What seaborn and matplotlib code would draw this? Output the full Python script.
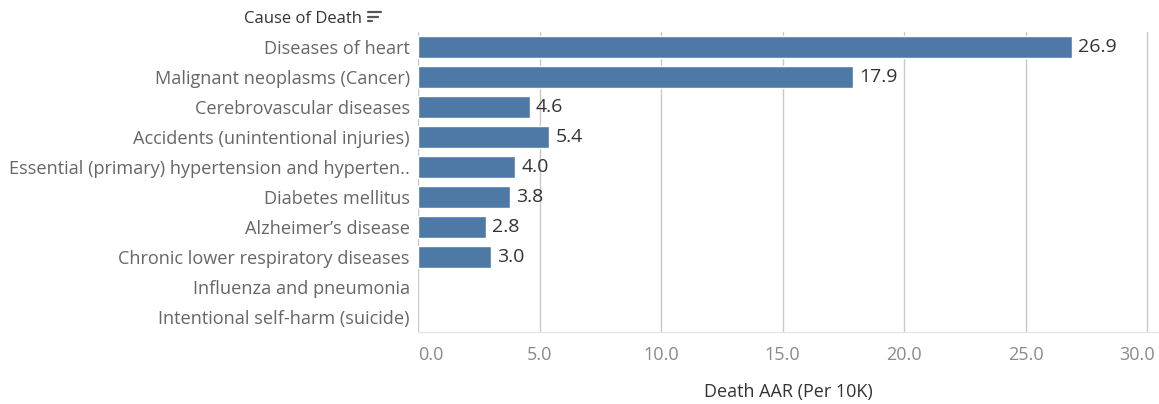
import pandas as pd
import matplotlib.pyplot as plt
import matplotlib.transforms as mtransforms
import seaborn as sns
from matplotlib.lines import Line2D

# 数据
causes = [
    "Diseases of heart",
    "Malignant neoplasms (Cancer)",
    "Cerebrovascular diseases",
    "Accidents (unintentional injuries)",
    "Essential (primary) hypertension and hyperten..",
    "Diabetes mellitus",
    "Alzheimer\u2019s disease",
    "Chronic lower respiratory diseases",
    "Influenza and pneumonia",
    "Intentional self-harm (suicide)",
]
rates = [26.9, 17.9, 4.6, 5.4, 4.0, 3.8, 2.8, 3.0, None, None]
x_ticks = [0, 5, 10, 15, 20, 25, 30]

df = pd.DataFrame({"cause": causes, "rate": rates})

sns.set_theme(style="white")
plt.rcParams['font.family'] = ['Open Sans', 'DejaVu Sans']

W, H = 1159, 404
px_per_unit = 24.3
fig = plt.figure(figsize=(W / 100, H / 100), dpi=100)
ax = fig.add_axes([418 / W, 1 - 332 / H, (W - 418) / W, 300 / H])

sns.barplot(data=df, y="cause", x="rate", orient="h", color="#4e79a7",
            saturation=1, width=0.74, ax=ax, zorder=3)

ax.set_xlim(0, (W - 418) / px_per_unit)
ax.set_ylim(9.5, -0.5)

for i, v in enumerate(rates):
    if v is not None:
        ax.text(v + 0.25, i, f"{v:.1f}", va="center", ha="left",
                fontsize=14, color="#333333", zorder=4)

ax.set_xticks(x_ticks)
ax.set_xticklabels([f"{t:.1f}" for t in x_ticks], fontsize=13, color="#8a8a8a")
ax.tick_params(axis="x", length=0, pad=10)
ax.tick_params(axis="y", length=0, pad=6, labelsize=13.1, labelcolor="#666666")

# 首尾刻度标签留在图内
labels = ax.get_xticklabels()
labels[0].set_horizontalalignment("left")
labels[-1].set_transform(labels[-1].get_transform() +
                         mtransforms.ScaledTranslation(-10 / 100, 0, fig.dpi_scale_trans))

ax.grid(axis="x", color="#c8c8c8", linewidth=1, zorder=0)
ax.grid(axis="y", visible=False)

for s in ["top", "right", "left"]:
    ax.spines[s].set_visible(False)
ax.spines["bottom"].set_color("#e6e6e6")
ax.spines["bottom"].set_linewidth(1)

ax.set_ylabel("")
ax.set_xlabel("Death AAR (Per 10K)", fontsize=13, color="#333333", labelpad=14)

# 表头
fig.text(362 / W, 1 - 19 / H, "Cause of Death", ha="right", va="center",
         fontsize=12, color="#333333")
for k, w in enumerate([13, 10, 4]):
    y = 1 - (12 + k * 4.5) / H
    fig.add_artist(Line2D([368 / W, (368 + w) / W], [y, y],
                          color="#555555", linewidth=1.6))

fig.savefig("out.png", dpi=100)
